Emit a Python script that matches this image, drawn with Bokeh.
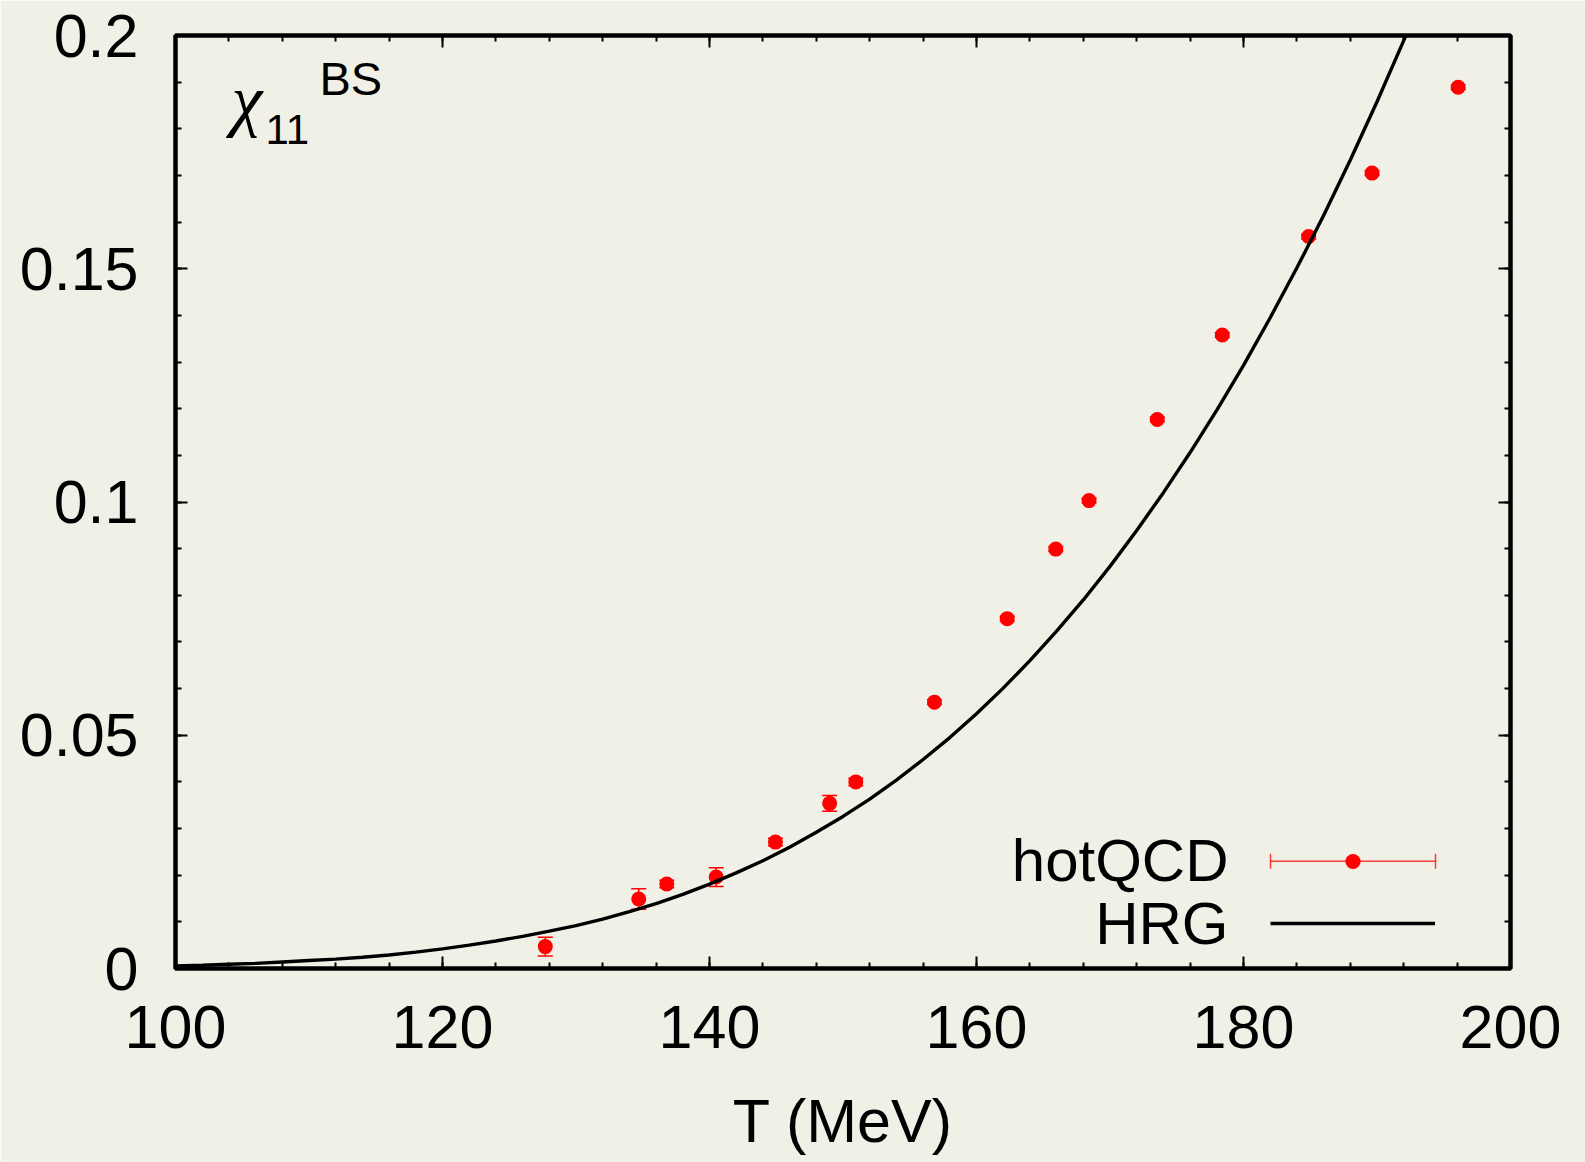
from bokeh.plotting import figure
from bokeh.models import (ColumnDataSource, Whisker, TeeHead, LinearAxis, FixedTicker,
                          CustomJSTickFormatter, Legend, LegendItem, Label, Range1d)
from bokeh.embed import file_html
from bokeh.resources import INLINE

# ---- data ----
T_qcd = [127.7, 134.7, 136.8, 140.5, 144.94, 149.0, 150.96, 156.85, 162.3, 165.94,
         168.43, 173.54, 178.41, 184.88, 189.63, 196.08]
chi_qcd = [0.0047, 0.0149, 0.0181, 0.0196, 0.0271, 0.0354, 0.0400, 0.0571, 0.0750, 0.0899,
           0.1003, 0.1177, 0.1358, 0.1569, 0.1705, 0.1889]
err_qcd = [0.0020, 0.0022, 0.0008, 0.0020, 0.0008, 0.0017, 0.0008, 0.0005, 0.0005, 0.0005,
           0.0005, 0.0005, 0.0005, 0.0005, 0.0005, 0.0005]

T_hrg = [100, 102, 104, 106, 108, 110, 112, 114, 116, 118, 120, 122, 124, 126, 128, 130,
         132, 134, 136, 138, 140, 142, 144, 146, 148, 150, 152, 154, 156, 158, 160, 162,
         164, 166, 168, 170, 172, 174, 176, 178, 180, 182, 184, 186, 188, 190, 192, 194]
chi_hrg = [0.00055, 0.0007, 0.0009, 0.0011, 0.0014, 0.0017, 0.0020, 0.0024, 0.0029, 0.0035,
           0.0042, 0.0050, 0.0059, 0.0069, 0.0080, 0.0092, 0.0106, 0.0122, 0.0139, 0.0159,
           0.0181, 0.0205, 0.0231, 0.0260, 0.0292, 0.0326, 0.0363, 0.0404, 0.0448, 0.0495,
           0.0546, 0.0601, 0.0660, 0.0723, 0.0790, 0.0862, 0.0939, 0.1020, 0.1106, 0.1197,
           0.1293, 0.1395, 0.1502, 0.1614, 0.1733, 0.1858, 0.1989, 0.2125]

x_major = [100, 120, 140, 160, 180, 200]
x_minor = [100 + 4 * i for i in range(26)]
y_major = [0, 0.05, 0.1, 0.15, 0.2]
y_minor = [round(0.01 * i, 3) for i in range(21)]

BG = "#f1f0e6"
FONT = "Liberation Sans"

p = figure(width=1585, height=1162, x_range=Range1d(100, 200), y_range=Range1d(0, 0.2),
           output_backend="svg", toolbar_location=None,
           min_border_left=175, min_border_right=75, min_border_top=35, min_border_bottom=194,
           background_fill_color=BG, border_fill_color=BG,
           outline_line_color="black", outline_line_width=4.5)
p.grid.visible = False

yfmt = CustomJSTickFormatter(code="return String(+tick.toFixed(3));")
xfmt = CustomJSTickFormatter(code="return String(tick);")


def style(ax, ticker, fmt=None):
    ax.ticker = ticker
    ax.axis_line_color = None
    ax.major_tick_in = 12
    ax.major_tick_out = 0
    ax.minor_tick_in = 6
    ax.minor_tick_out = 0
    ax.major_tick_line_width = 2
    ax.minor_tick_line_width = 2
    ax.major_tick_line_color = "black"
    ax.minor_tick_line_color = "black"
    ax.major_label_text_font = FONT
    if fmt is not None:
        ax.major_label_text_font_size = "61px"
        ax.major_label_text_color = "black"
        ax.formatter = fmt
    else:
        ax.major_label_text_font_size = "1px"
        ax.major_label_text_color = None
        ax.major_label_text_alpha = 0
        ax.major_label_standoff = 0


style(p.xaxis[0], FixedTicker(ticks=x_major, minor_ticks=x_minor), xfmt)
style(p.yaxis[0], FixedTicker(ticks=y_major, minor_ticks=y_minor), yfmt)
p.xaxis[0].major_label_standoff = 37
p.yaxis[0].major_label_standoff = 37
p.xaxis[0].axis_label = "T (MeV)"
p.xaxis[0].axis_label_text_font = FONT
p.xaxis[0].axis_label_text_font_size = "61px"
p.xaxis[0].axis_label_text_font_style = "normal"
p.xaxis[0].axis_label_text_color = "black"
p.xaxis[0].axis_label_standoff = 36

ax_top = LinearAxis()
style(ax_top, FixedTicker(ticks=x_major, minor_ticks=x_minor))
p.add_layout(ax_top, "above")
ax_right = LinearAxis()
style(ax_right, FixedTicker(ticks=y_major, minor_ticks=y_minor))
p.add_layout(ax_right, "right")

# ---- data renderers ----
src = ColumnDataSource(dict(T=T_qcd, chi=chi_qcd,
                            lo=[c - e for c, e in zip(chi_qcd, err_qcd)],
                            hi=[c + e for c, e in zip(chi_qcd, err_qcd)]))
wh = Whisker(base="T", lower="lo", upper="hi", source=src, line_color="red", line_width=1.5,
             upper_head=TeeHead(size=15, line_color="red", line_width=1.5),
             lower_head=TeeHead(size=15, line_color="red", line_width=1.5))
p.add_layout(wh)
pts = p.scatter("T", "chi", source=src, size=15, color="red", line_color=None)

hrg = p.line(T_hrg, chi_hrg, line_color="black", line_width=3.4)

# ---- key (text left, sample right, as in the reference) ----
key_bar = ColumnDataSource(dict(base=[107.3], lower=[1095], upper=[1260]))
p.add_layout(Whisker(base="base", lower="lower", upper="upper", source=key_bar,
                     dimension="width", base_units="screen", lower_units="screen",
                     upper_units="screen", line_color="red", line_width=1.5, line_alpha=0.75,
                     upper_head=TeeHead(size=15, line_color="red", line_width=1.5, line_alpha=0.75),
                     lower_head=TeeHead(size=15, line_color="red", line_width=1.5, line_alpha=0.75)))

legend = Legend(items=[LegendItem(label=" ", renderers=[pts]),
                       LegendItem(label=" ", renderers=[hrg])],
                location=(1095, 26), glyph_width=165, glyph_height=38, label_height=38,
                spacing=24, padding=0, margin=0, label_standoff=0, label_width=1,
                background_fill_alpha=0, border_line_alpha=0,
                label_text_font_size="1px", label_text_color=None, label_text_alpha=0)
p.add_layout(legend)

p.add_layout(Label(x=1053, y=107.8, x_units="screen", y_units="screen", text="hotQCD",
                   text_align="right", text_baseline="alphabetic", text_font=FONT,
                   text_font_size="60px", text_color="black"))
p.add_layout(Label(x=1053, y=45.5, x_units="screen", y_units="screen", text="HRG",
                   text_align="right", text_baseline="alphabetic", text_font=FONT,
                   text_font_size="60px", text_color="black"))

# chi_11^BS
p.add_layout(Label(x=56, y=869, x_units="screen", y_units="screen", text="χ",
                   text_align="left", text_baseline="alphabetic", text_font="Liberation Serif",
                   text_font_style="italic", text_font_size="70px", text_color="black"))
p.add_layout(Label(x=90, y=839, x_units="screen", y_units="screen", text="11",
                   text_align="left", text_baseline="alphabetic", text_font=FONT,
                   text_font_size="42px", text_color="black"))
p.add_layout(Label(x=144, y=890.5, x_units="screen", y_units="screen", text="BS",
                   text_align="left", text_baseline="alphabetic", text_font=FONT,
                   text_font_size="47px", text_color="black"))

open("out.html", "w").write(file_html(p, INLINE))
